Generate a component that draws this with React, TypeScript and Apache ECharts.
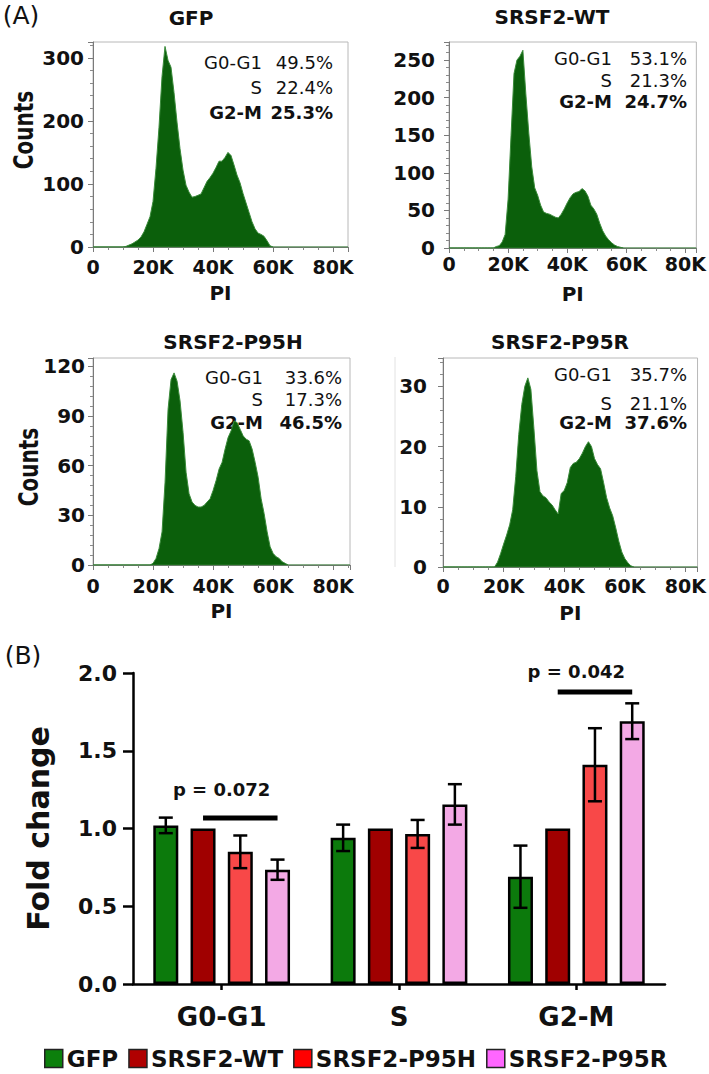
import React, { useEffect, useRef } from "react";
import * as echarts from "echarts";

const FONT = '"DejaVu Sans", sans-serif';

// ---------- Panel A: PI histograms (counts per 1K PI bin, starting at 0K) ----------
const gfpCounts = [
  0, 0, 0, 0, 0, 0, 0, 0, 0, 0, 0, 1, 3, 5, 8, 11, 16, 24, 36, 48,
  72, 125, 190, 270, 318, 296, 285, 245, 198, 156, 122, 98, 87, 79, 80, 82, 84, 94, 104, 110,
  117, 126, 136, 136, 142, 150, 145, 130, 114, 102, 85, 70, 55, 40, 29, 22, 20, 17, 10, 2,
  0,
];
const wtCounts = [
  0, 0, 0, 0, 0, 0, 0, 0, 0, 0, 0, 0, 0, 0, 0, 0, 2, 3, 8, 18,
  65, 150, 232, 250, 255, 263, 205, 153, 108, 80, 70, 57, 48, 46, 45, 43, 41, 40, 45, 52,
  60, 67, 72, 74, 75, 79, 76, 69, 57, 52, 45, 33, 23, 16, 11, 7, 4, 2, 1, 0,
];
const p95hCounts = [
  0, 0, 0, 0, 0, 0, 0, 0, 0, 0, 0, 0, 0, 0, 0, 0, 0, 0, 0, 0,
  1, 4, 10, 20, 50, 94, 112, 116, 111, 99, 80, 56, 43, 38, 36, 35, 35, 36, 38, 40,
  45, 51, 58, 62, 70, 77, 81, 87, 86, 82, 78, 76, 75, 70, 62, 53, 40, 31, 20, 11,
  7, 5, 4, 2, 1, 0,
];
const p95rCounts = [
  0, 0, 0, 0, 0, 0, 0, 0, 0, 0, 0, 0, 0, 0, 0, 0, 0, 0, 0.8, 2.2,
  3.8, 5.3, 7, 9.5, 15, 22, 27, 30, 31.4, 29.5, 23, 16, 12.5, 11.8, 11.5, 10.8, 10.3, 9.5, 8.8, 12.2,
  12.7, 14, 16.5, 17.2, 17.4, 18, 18.9, 20, 20.8, 20, 18, 17, 16.3, 14, 11.5, 9.8, 8.5, 6.5, 4.3, 2.5,
  1.4, 0.7, 0.2, 0,
];
const histCounts = [gfpCounts, wtCounts, p95hCounts, p95rCounts];
const histTitles = ["GFP", "SRSF2-WT", "SRSF2-P95H", "SRSF2-P95R"];
const g0g1Pct = ["49.5%", "53.1%", "33.6%", "35.7%"];
const sPct = ["22.4%", "21.3%", "17.3%", "21.1%"];
const g2mPct = ["25.3%", "24.7%", "46.5%", "37.6%"];
const histYMax = [325, 274, 125, 34.7];
const histYInterval = [100, 50, 30, 10];
const histXMax = [85, 83.7, 85.6, 84];
const histXInterval = 20;

// ---------- Panel B: fold change ----------
const phases = ["G0-G1", "S", "G2-M"];
const groups = ["GFP", "SRSF2-WT", "SRSF2-P95H", "SRSF2-P95R"];
const gfpFold = [1.02, 0.94, 0.69];
const wtFold = [1.0, 1.0, 1.0];
const p95hFold = [0.85, 0.965, 1.41];
const p95rFold = [0.735, 1.155, 1.69];
const gfpErr = [0.05, 0.085, 0.2];
const wtErr = [0, 0, 0];
const p95hErr = [0.105, 0.09, 0.235];
const p95rErr = [0.065, 0.13, 0.115];
const foldValues = [gfpFold, wtFold, p95hFold, p95rFold];
const foldErrors = [gfpErr, wtErr, p95hErr, p95rErr];
const sigCategory = [0, 2];
const sigLineY = [1.068, 1.878];
const sigTextY = [1.25, 2.012];
const sigTexts = ["p = 0.072", "p = 0.042"];

const barColors = ["#0c7a0c", "#a00000", "#f84848", "#f3a9e5"];
const legendColors = ["#0c800c", "#b00000", "#ff0000", "#ff66ff"];
const histFill = "#0b5f0b";

// layout
const histGrids = [
  { left: 93, top: 42, width: 255, height: 205 },
  { left: 449, top: 42, width: 252, height: 206 },
  { left: 93, top: 358, width: 257, height: 207 },
  { left: 443, top: 358, width: 259, height: 209 },
];
const histXLabelMargin = [10, 6, 11, 9];
const histYLabelMargin = [9, 14, 8, 16];
const annot = [
  { lx: 262, vx: 333, ys: [62, 87, 112] },
  { lx: 612, vx: 687, ys: [58, 80, 101] },
  { lx: 263, vx: 342, ys: [377, 399, 422] },
  { lx: 612, vx: 687, ys: [374, 403, 422] },
];
const titlePos = [
  [191, 18],
  [552, 17],
  [233, 342],
  [560, 342],
];
const BAR_W = 25;
const BAR_PITCH = 37.25;

function txt(x: number, y: number, text: string, font: string, align = "center", extra: any = {}) {
  return {
    type: "text",
    x,
    y,
    ...extra,
    style: {
      text,
      font,
      fill: "#111",
      textAlign: align,
      textVerticalAlign: "middle",
      align,
      verticalAlign: "middle",
    },
  };
}

export default function App() {
  const ref = useRef<HTMLDivElement>(null);

  useEffect(() => {
    if (!ref.current) return;
    const chart = echarts.init(ref.current, null, { renderer: "svg" });

    const grids: any[] = histGrids.map((g) => ({
      ...g,
      show: true,
      borderColor: "#b8b8b8",
      borderWidth: 1,
      containLabel: false,
    }));
    grids.push({ left: 133, top: 673, width: 532, height: 311, containLabel: false });

    const xAxes: any[] = histGrids.map((_, i) => ({
      type: "value",
      gridIndex: i,
      min: 0,
      max: histXMax[i],
      interval: histXInterval,
      name: "PI",
      nameLocation: "middle",
      nameGap: 36,
      nameTextStyle: { fontFamily: FONT, fontWeight: "bold", fontSize: 20, color: "#111" },
      splitLine: { show: false },
      axisLine: { show: true, onZero: false, lineStyle: { color: "#7a7a7a", width: 1 } },
      axisTick: { show: true, length: 5, lineStyle: { color: "#7a7a7a" } },
      minorTick: { show: true, splitNumber: 4, length: 3, lineStyle: { color: "#8a8a8a" } },
      axisLabel: {
        fontFamily: FONT,
        fontWeight: "bold",
        fontSize: 19,
        color: "#111",
        margin: histXLabelMargin[i],
        showMaxLabel: false,
        formatter: (v: number) => (v === 0 ? "0" : `${v}K`),
      },
    }));
    xAxes.push({
      type: "category",
      gridIndex: 4,
      data: phases,
      axisLine: { show: true, lineStyle: { color: "#000", width: 2.5 } },
      axisTick: { show: true, alignWithLabel: true, length: 6, lineStyle: { color: "#000", width: 2.5 } },
      axisLabel: { fontFamily: FONT, fontWeight: "bold", fontSize: 26, color: "#111", margin: 20 },
      splitLine: { show: false },
    });

    const yAxes: any[] = histGrids.map((_, i) => ({
      type: "value",
      gridIndex: i,
      min: 0,
      max: histYMax[i],
      interval: histYInterval[i],
      splitLine: { show: false },
      axisLine: { show: true, lineStyle: { color: "#7a7a7a", width: 1 } },
      axisTick: { show: true, length: 5, lineStyle: { color: "#7a7a7a" } },
      minorTick: { show: true, splitNumber: 5, length: 3, lineStyle: { color: "#8a8a8a" } },
      axisLabel: {
        fontFamily: FONT,
        fontWeight: "bold",
        fontSize: 20,
        color: "#111",
        margin: histYLabelMargin[i],
        showMaxLabel: false,
      },
    }));
    yAxes.push({
      type: "value",
      gridIndex: 4,
      min: 0,
      max: 2,
      interval: 0.5,
      name: "Fold change",
      nameLocation: "middle",
      nameGap: 80,
      nameTextStyle: { fontFamily: FONT, fontWeight: "bold", fontSize: 30, color: "#111" },
      splitLine: { show: false },
      axisLine: { show: true, lineStyle: { color: "#000", width: 2.5 } },
      axisTick: { show: true, length: 10, lineStyle: { color: "#000", width: 2.5 } },
      axisLabel: {
        fontFamily: FONT,
        fontWeight: "bold",
        fontSize: 22,
        color: "#111",
        margin: 16,
        formatter: (v: number) => v.toFixed(1),
      },
    });

    const series: any[] = histCounts.map((counts, i) => ({
      type: "line",
      xAxisIndex: i,
      yAxisIndex: i,
      data: counts.map((c, k) => [k, c]),
      showSymbol: false,
      symbol: "none",
      silent: true,
      lineStyle: { color: "#3a8a3a", width: 1 },
      areaStyle: { color: histFill, opacity: 1 },
      z: 2,
    }));
    // flat baseline continuing to the right edge
    histCounts.forEach((counts, i) => {
      series.push({
        type: "line",
        xAxisIndex: i,
        yAxisIndex: i,
        data: [
          [0, 0],
          [histXMax[i], 0],
        ],
        showSymbol: false,
        symbol: "none",
        silent: true,
        lineStyle: { color: "#2f7f2f", width: 1.2 },
        z: 3,
      });
    });

    groups.forEach((g, i) => {
      series.push({
        type: "bar",
        name: g,
        xAxisIndex: 4,
        yAxisIndex: 4,
        data: foldValues[i],
        barWidth: BAR_W,
        barGap: "49%",
        itemStyle: { color: barColors[i], borderColor: "#000", borderWidth: 2.5 },
        z: 2,
      });
    });

    const errData: number[][] = [];
    foldValues.forEach((vals, si) => {
      vals.forEach((v, ci) => {
        const e = foldErrors[si][ci];
        if (e > 0) errData.push([ci, si, v - e, v + e]);
      });
    });
    series.push({
      type: "custom",
      xAxisIndex: 4,
      yAxisIndex: 4,
      data: errData,
      silent: true,
      z: 10,
      renderItem: (params: any, api: any) => {
        const ci = api.value(0);
        const si = api.value(1);
        const lo = api.coord([ci, api.value(2)]);
        const hi = api.coord([ci, api.value(3)]);
        const x = lo[0] + (si - 1.5) * BAR_PITCH;
        const st = { stroke: "#000", lineWidth: 2.5 };
        return {
          type: "group",
          children: [
            { type: "line", shape: { x1: x, y1: hi[1], x2: x, y2: lo[1] }, style: st },
            { type: "line", shape: { x1: x - 7, y1: hi[1], x2: x + 7, y2: hi[1] }, style: st },
            { type: "line", shape: { x1: x - 7, y1: lo[1], x2: x + 7, y2: lo[1] }, style: st },
          ],
        };
      },
    });

    series.push({
      type: "custom",
      xAxisIndex: 4,
      yAxisIndex: 4,
      data: sigCategory.map((c, i) => [c, sigLineY[i], sigTextY[i]]),
      silent: true,
      clip: false,
      z: 10,
      renderItem: (params: any, api: any) => {
        const c = api.value(0);
        const ln = api.coord([c, api.value(1)]);
        const tp = api.coord([c, api.value(2)]);
        const x1 = ln[0] - 0.5 * BAR_PITCH;
        const x2 = ln[0] + 1.5 * BAR_PITCH;
        return {
          type: "group",
          children: [
            {
              type: "line",
              shape: { x1, y1: ln[1], x2, y2: ln[1] },
              style: { stroke: "#000", lineWidth: 5 },
            },
            {
              type: "text",
              x: tp[0],
              y: tp[1],
              style: {
                text: sigTexts[params.dataIndex],
                font: `bold 18px ${FONT}`,
                fill: "#111",
                textAlign: "center",
                textVerticalAlign: "middle",
                align: "center",
                verticalAlign: "middle",
              },
            },
          ],
        };
      },
    });

    const graphics: any[] = [];
    graphics.push(txt(21, 15, "(A)", `25px ${FONT}`));
    graphics.push(txt(23, 655, "(B)", `25px ${FONT}`));
    histTitles.forEach((t, i) => {
      graphics.push(txt(titlePos[i][0], titlePos[i][1], t, `bold 20px ${FONT}`));
      const a = annot[i];
      graphics.push(txt(a.lx, a.ys[0], "G0-G1", `18px ${FONT}`, "right"));
      graphics.push(txt(a.vx, a.ys[0], g0g1Pct[i], `18px ${FONT}`, "right"));
      graphics.push(txt(a.lx, a.ys[1], "S", `18px ${FONT}`, "right"));
      graphics.push(txt(a.vx, a.ys[1], sPct[i], `18px ${FONT}`, "right"));
      graphics.push(txt(a.lx, a.ys[2], "G2-M", `bold 18px ${FONT}`, "right"));
      graphics.push(txt(a.vx, a.ys[2], g2mPct[i], `bold 18px ${FONT}`, "right"));
    });
    graphics.push(txt(24, 130, "Counts", `bold 20px ${FONT}`, "center", { rotation: Math.PI / 2, scaleY: 1.35 }));
    graphics.push(txt(29, 467, "Counts", `bold 20px ${FONT}`, "center", { rotation: Math.PI / 2, scaleY: 1.35 }));
    graphics.push({
      type: "line",
      shape: { x1: 395, y1: 357, x2: 395, y2: 567 },
      style: { stroke: "#e2e2e2", lineWidth: 1 },
    });

    chart.setOption({
      animation: false,
      backgroundColor: "#fff",
      grid: grids,
      xAxis: xAxes,
      yAxis: yAxes,
      series,
      graphic: graphics,
      legend: {
        left: 44,
        top: 1047,
        padding: 0,
        itemWidth: 18,
        itemHeight: 18,
        itemGap: 10,
        icon: "rect",
        selectedMode: false,
        textStyle: { fontFamily: FONT, fontWeight: "bold", fontSize: 23, color: "#111", padding: [0, 0, 0, -1] },
        data: groups.map((g, i) => ({
          name: g,
          itemStyle: { color: legendColors[i], borderColor: "#222", borderWidth: 1.5 },
        })),
      },
    });

    return () => chart.dispose();
  }, []);

  return (
    <div
      ref={ref}
      style={{ position: "absolute", left: 0, top: 0, width: 709, height: 1074, background: "#fff" }}
    />
  );
}
